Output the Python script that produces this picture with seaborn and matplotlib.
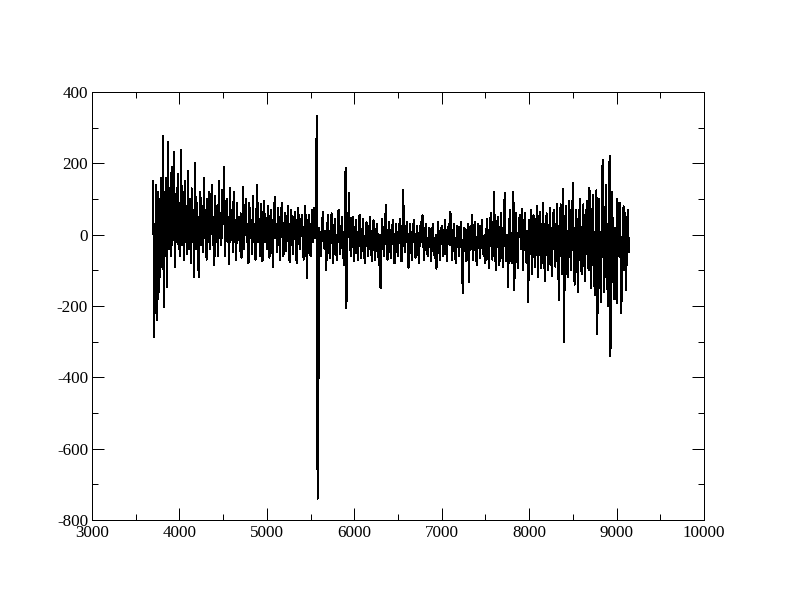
import numpy as np
import pandas as pd
import matplotlib
matplotlib.use("Agg")
import matplotlib.pyplot as plt
from matplotlib.ticker import MultipleLocator
import seaborn as sns

# Residual spectrum: one value every 10 A from 3700 A
# (each row below covers 200 A).
WAVE_START = 3700
WAVE_STEP = 10
residual = [
    150, -287, -150, 140, -239, 120, -180, 100, -120, 160, -90, 277, -203, 120, -60, 160, -147, 260, -40, 130,
    -60, 190, -30, 150, 232, -90, 110, -20, 170, -40, 90, -60, 237, -30, 120, -70, 150, -20, 80, -55,
    180, -40, 100, -80, 130, -20, 70, -119, 201, -40, 90, -10, -119, 60, 120, -30, 80, -50, 159, -10,
    70, -70, 100, -20, 120, -40, 60, 140, -30, 50, -85, 110, -20, 80, -60, 150, -10, 60, -30, 125,
    30, 190, -60, 70, 100, -20, 50, -82, 130, -10, 60, -50, 120, -20, 40, -70, 90, 0, 50, -45,
    60, -65, 20, 134, -40, 50, 100, -20, 30, -80, 90, -10, 40, -55, 110, -20, 30, -70, 60, 139,
    -20, 40, -60, 85, -10, -75, 60, 95, -20, 30, -40, 80, -10, -65, 50, 70, -20, -90, 40, 106,
    -10, 30, -50, 75, 0, -70, 40, 90, -20, -60, 30, 60, -45, 10, 80, -30, -77, 30, 70, -20,
    -55, 30, 65, -10, -80, 40, 75, -20, -40, 30, 55, -10, -70, 20, 80, -30, -122, 20, 55, -30,
    -60, 30, 70, -20, 75, -10, 40, 333, -740, -435, 20, -30, -60, 20, 65, -20, -40, 10, -99, 20,
    55, -30, -65, 10, 60, -20, -80, 20, 45, -40, -70, 10, 70, -20, -55, 10, 50, -30, -85, 10,
    187, -206, -20, 30, 116, -10, -60, 20, 50, -30, -75, 10, 40, -20, -70, 10, 55, -30, -65, 0,
    45, -40, -80, 0, 35, -30, -60, 10, 50, -20, -75, 0, 40, -40, -70, 10, 30, -20, -85, 0,
    -150, -20, 45, -30, -60, 0, 83, -20, -70, 10, 35, -40, -65, 0, 40, -30, -80, 0, 30, -40,
    -60, 0, 45, -30, -75, 10, 125, -20, -50, 0, 35, -30, -93, 0, 30, -40, -70, 10, 40, -30,
    -65, 0, 25, -40, -80, 0, 35, -20, 55, -30, -70, 10, 30, -40, -60, 0, 20, -30, -75, 10,
    30, -40, -65, 0, -96, -20, 35, -40, -70, 0, 25, -30, -60, 10, 40, -40, -75, 0, 30, -30,
    64, -20, -70, 0, 30, -40, -80, 0, 25, -30, -60, 10, 35, -40, -164, 0, 20, -40, -75, 0,
    30, -132, -20, 25, -40, 55, -70, 0, 35, -40, -85, 0, 30, -30, -65, 10, 40, -40, -60, 0,
    -80, 10, 45, -40, -95, 0, 60, -30, -70, 10, 120, -50, -100, 0, 50, -40, -85, 10, 60, -40,
    -90, 10, 117, -40, -75, 0, -146, 20, 70, -50, -80, 10, 120, -155, -30, 60, -40, -95, 10, 50,
    55, -40, 72, -100, 0, 60, -50, -80, 10, -189, 40, -30, 70, -110, 0, 55, -60, -90, 20, 80,
    -120, 0, 65, -60, -95, 10, 90, -50, -130, 20, 60, -60, -100, 10, 75, -50, -115, 20, 70, -40,
    -90, 10, 85, -50, -183, 20, 85, -60, -110, 128, -300, 20, 80, -60, -120, 10, 95, -50, -100, 30,
    145, -60, -140, 20, 70, -80, -160, 30, 100, -60, -110, 20, 85, -70, -130, 30, 95, -50, -100, 131,
    -60, -150, 40, 110, -70, -170, 30, 125, -280, 20, 100, -90, -190, 40, 209, -60, -160, 50, 139, -80,
    -200, 30, 221, -340, 40, 120, -90, -180, 20, -60, -192, 100, -60, 30, 90, -220, -170, 40, 80, -100,
    60, -154, 30, 70, -50,
]
wavelength = WAVE_START + WAVE_STEP * np.arange(len(residual))

df = pd.DataFrame({"wavelength": wavelength, "residual": residual})

sns.set_style("ticks")
plt.rcParams["font.family"] = ["Liberation Serif", "DejaVu Serif"]
plt.rcParams["axes.unicode_minus"] = False

fig = plt.figure(figsize=(11, 8.5), dpi=72)
ax = fig.add_axes([92 / 792, 92 / 612, 612 / 792, 428 / 612])

# grace-style crisp 1px line, no antialiasing so the dense part reads solid
sns.lineplot(data=df, x="wavelength", y="residual", ax=ax, color="black",
             linewidth=1.0, sort=False, estimator=None, antialiased=False)

ax.set_xlim(3000, 10000)
ax.set_ylim(-800, 400)
ax.xaxis.set_major_locator(MultipleLocator(1000))
ax.xaxis.set_minor_locator(MultipleLocator(500))
ax.yaxis.set_major_locator(MultipleLocator(200))
ax.yaxis.set_minor_locator(MultipleLocator(100))
ax.tick_params(which="both", direction="in", top=True, right=True,
               width=1, color="black", labelsize=17, labelcolor="black")
ax.tick_params(which="major", length=12)
ax.tick_params(axis="y", which="major", pad=4)
ax.tick_params(axis="x", which="major", pad=5)
ax.tick_params(which="minor", length=6)
ax.set_xlabel("")
ax.set_ylabel("")
for s in ax.spines.values():
    s.set_linewidth(1)
    s.set_color("black")

fig.savefig("out.png", dpi=72)
